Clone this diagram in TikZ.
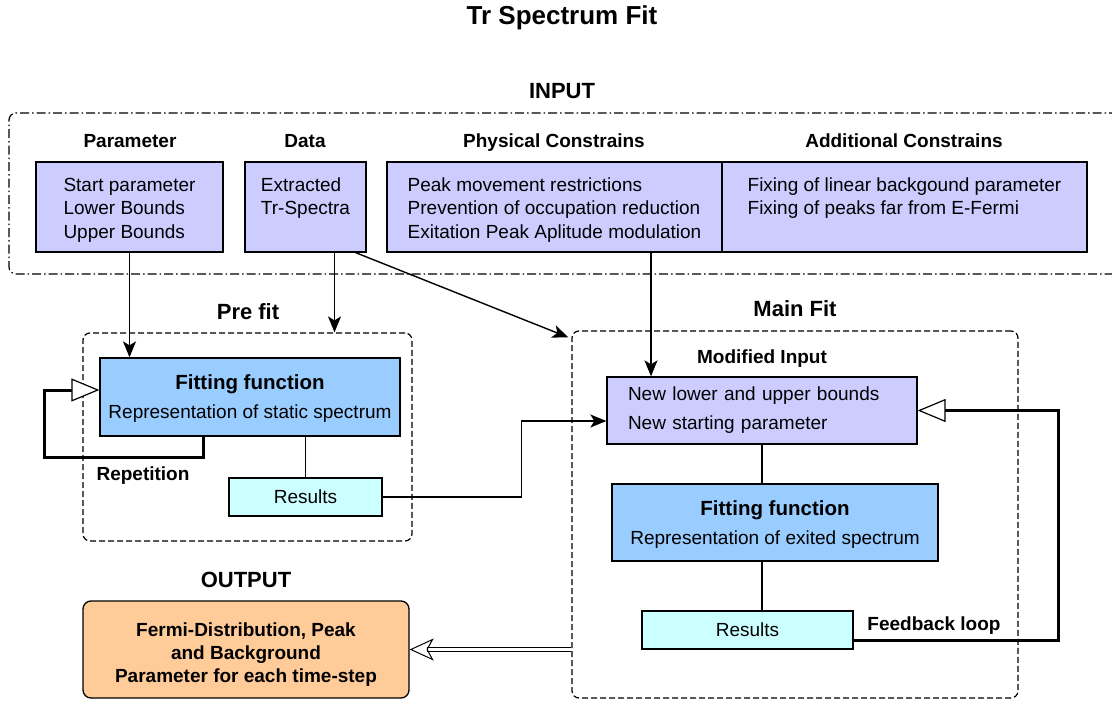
\documentclass[tikz,border=0pt]{standalone}
\usepackage{fontspec}
\setmainfont{Liberation Sans}
\usetikzlibrary{arrows.meta}
\definecolor{lav}{HTML}{CCCCFF}
\definecolor{fitblue}{HTML}{99CCFF}
\definecolor{rescyan}{HTML}{CCFFFF}
\definecolor{outorange}{HTML}{FFCC99}
\begin{document}
\begin{tikzpicture}[x=1pt, y=-1pt,
  box/.style={draw, line width=1.3pt, inner sep=0pt},
  body/.style={font=\fontsize{19}{23.5}\selectfont},
  hdr/.style={font=\bfseries\fontsize{22}{26}\selectfont, text height=16pt, text depth=0pt},
  sub/.style={font=\bfseries\fontsize{19}{23}\selectfont, text height=13.7pt, text depth=0pt},
  arr/.style={line width=1.4pt, -{Stealth[length=16pt, width=13pt, inset=4pt]}},
  loopline/.style={line width=3pt, -{Triangle[open, fill=white, line width=1.2pt, length=28pt, width=23pt]}},
  grp/.style={draw, line width=1.2pt, dash pattern=on 6pt off 3pt, rounded corners=7pt, inner sep=0pt},
  dashdot/.style={draw, line width=1.2pt, dash pattern=on 9pt off 3pt on 1.5pt off 3pt, rounded corners=7pt, inner sep=0pt}
]
\useasboundingbox (0,0) rectangle (1112,704);
\clip (0,0) rectangle (1112,704);

% title and section headings
\node[font=\bfseries\fontsize{26}{30}\selectfont] (title) at (562,18) {Tr Spectrum Fit};
\node[hdr] (hinput) at (562,90) {INPUT};
\node[hdr] (hprefit) at (248,311) {Pre fit};
\node[hdr] (hmainfit) at (795,308) {Main Fit};
\node[hdr] (houtput) at (246,579) {OUTPUT};

% input group
\node[dashdot, minimum width=1116pt, minimum height=161pt] (input) at (567,193.5) {};
\node[sub] (hparam) at (130,141) {Parameter};
\node[sub] (hdata) at (305,141) {Data};
\node[sub] (hphys) at (554,141) {Physical Constrains};
\node[sub] (hadd) at (904,141) {Additional Constrains};

\node[box, fill=lav, minimum width=187pt, minimum height=90pt] (param) at (129.5,207) {};
\node[body, align=left] (paramtxt) at ([yshift=-3pt]param.center)
  {Start parameter\\Lower Bounds\\Upper Bounds};
\node[box, fill=lav, minimum width=121pt, minimum height=90pt] (data) at (305.5,207) {};
\node[body, align=left] (datatxt) at ([yshift=-1pt]data.center)
  {Extracted\\Tr-Spectra\\\phantom{X}};
\node[box, fill=lav, minimum width=335pt, minimum height=90pt] (phys) at (554.5,207) {};
\node[body, align=left] (phystxt) at ([yshift=-3pt]phys.center)
  {Peak movement restrictions\\Prevention of occupation reduction\\Exitation Peak Aplitude modulation};
\node[box, fill=lav, minimum width=365pt, minimum height=90pt] (addc) at (904.5,207) {};
\node[body, align=left] (addctxt) at ([yshift=-1pt]addc.center)
  {Fixing of linear backgound parameter\\Fixing of peaks far from E-Fermi\\\phantom{X}};

% pre fit group
\node[grp, minimum width=329pt, minimum height=208pt] (prefit) at (247.5,437) {};
\node[box, fill=fitblue, minimum width=300pt, minimum height=78pt] (fitA) at (250,397) {};
\node[font=\fontsize{19}{29}\selectfont, align=center] (fitAtxt) at ([yshift=-2pt]fitA.center)
  {\textbf{\fontsize{20.5}{29}\selectfont Fitting function}\\Representation of static spectrum};
\node[box, fill=rescyan, body, minimum width=153pt, minimum height=38pt] (resA) at (305.5,497) {Results};
\node[sub] (lrep) at (143,474) {Repetition};

% main fit group
\node[grp, minimum width=446pt, minimum height=367pt] (mainfit) at (795,514.5) {};
\node[sub] (hmod) at (762,357) {Modified Input};
\node[box, fill=lav, font=\fontsize{19}{29}\selectfont, align=left, inner xsep=21pt, text width=268pt, minimum width=310pt, minimum height=67pt] (modin) at (762,410.5)
  {New lower and upper bounds\\New starting parameter};
\node[box, fill=fitblue, minimum width=326pt, minimum height=77pt] (fitB) at (775,522.5) {};
\node[font=\fontsize{19}{29}\selectfont, align=center] (fitBtxt) at ([yshift=-2pt]fitB.center)
  {\textbf{\fontsize{20.5}{29}\selectfont Fitting function}\\Representation of exited spectrum};
\node[box, fill=rescyan, body, minimum width=211pt, minimum height=38pt] (resB) at (747.5,630) {Results};
\node[sub] (lfeed) at (934,624) {Feedback loop};

% output
\node[draw, line width=1.3pt, rounded corners=8pt, fill=outorange, minimum width=326pt, minimum height=97pt] (output) at (246,649.5) {};
\node[align=center, font=\bfseries\fontsize{19}{23}\selectfont] (outtxt) at ([yshift=-5pt]output.center)
  {Fermi-Distribution, Peak\\and Background\\Parameter for each time-step};

% connectors
\draw[arr] (param.south) -- (param.south |- fitA.north);
\draw[arr] ([xshift=29pt]data.south) -- ([xshift=29pt]data.south |- prefit.north);
\draw[arr] ([xshift=-11pt]data.south east) -- ([shift={(-3pt,-7pt)}]mainfit.north west);
\draw[arr] ([xshift=96.5pt]phys.south) -- ([xshift=96.5pt]phys.south |- modin.north);
\draw[line width=1.3pt] (resA.north |- fitA.south) -- (resA.north);
\draw[loopline] ([xshift=-47pt]fitA.south) -- ++(0,21) -- ++(-159,0) |- ([yshift=7pt]fitA.west);
\draw[arr] (resA.east) -- ++(139,0) |- ([yshift=-10.5pt]modin.west);
\draw[line width=1.3pt] (modin.south) -- (modin.south |- fitB.north);
\draw[line width=1.3pt] (modin.south |- fitB.south) -- (modin.south |- resB.north);
\draw[loopline] ([yshift=-10pt]resB.east) -- ++(205,0) |- (modin.east);
\draw[line width=1pt, double distance=3pt, -{Stealth[open, length=24pt, width=22pt, inset=6pt]}]
  (mainfit.west |- output.east) -- (output.east);
\end{tikzpicture}
\end{document}
